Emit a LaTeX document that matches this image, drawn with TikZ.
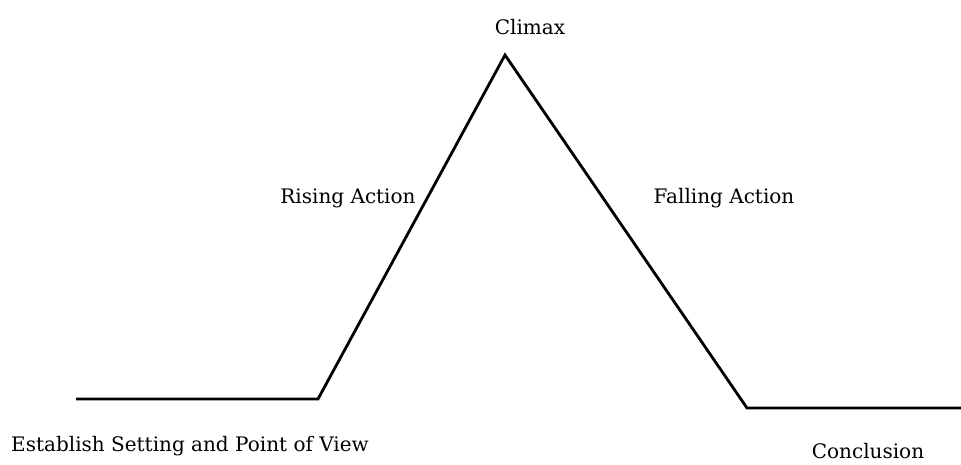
\documentclass[tikz,border=0pt]{standalone}
\usepackage{fontspec}
\setmainfont{DejaVu Serif}
\begin{document}
\begin{tikzpicture}[x=1pt,y=-1pt,
  plot/.style={line width=2.8pt,line join=miter},
  lbl/.style={font=\fontsize{20}{24}\selectfont,inner sep=0pt,anchor=center}]
\useasboundingbox (0,0) rectangle (961,464);
\coordinate (start) at (76,399);
\coordinate (rise) at (318,399);
\coordinate (peak) at (505,55);
\coordinate (fall) at (747,408);
\coordinate (end) at (961,408);
\draw[plot] (start) -- (rise) -- (peak) -- (fall) -- (end);
\node[lbl] (climax) at (530,27) {Climax};
\node[lbl] (rising) at (348,198) {Rising Action};
\node[lbl] (falling) at (724,198) {Falling Action};
\node[lbl] (setting) at (190,446) {Establish Setting and Point of View};
\node[lbl] (conclusion) at (868,451) {Conclusion};
\end{tikzpicture}
\end{document}
